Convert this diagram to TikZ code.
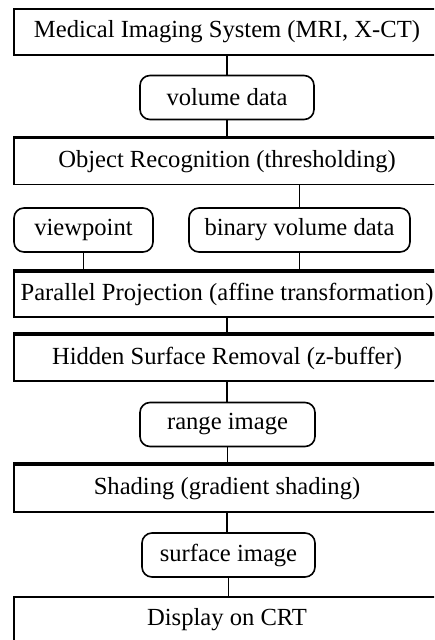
\documentclass[tikz,border=0pt]{standalone}
\usepackage{fontspec}
\setmainfont{Liberation Serif}
\usepackage{tikz}
\usetikzlibrary{positioning}

\begin{document}
\begin{tikzpicture}[x=0.5pt,y=-0.5pt]
                \tikzstyle{every node}+=[inner sep=0pt,font=\fontsize{12.3pt}{14pt}\selectfont]
                \tikzstyle{stage}=[draw,line width=0.8pt,minimum width=213pt,minimum height=23pt]
                \tikzstyle{data}=[draw,line width=0.8pt,rounded corners=5pt,minimum height=22pt]
                \tikzstyle{link}=[line width=0.9pt]
                \useasboundingbox (0,0) rectangle (434,640);
                \clip (0,0) rectangle (434,640);
                \node [stage] (sys) at (227,32) {Medical Imaging System (MRI, X-CT)};
                \node [data,minimum width=87pt] (vol) at (227,97.5) {volume data};
                \node [stage] (recog) at (227,161.5) {Object Recognition (thresholding)};
                \node [data,minimum width=69.5pt] (view) at (83.5,230) {viewpoint};
                \node [data,minimum width=110.5pt] (binary) at (299.5,230) {binary volume data};
                \node [stage,minimum height=22.5pt] (proj) at (227,294.5) {Parallel Projection (affine transformation)};
                \node [stage] (hidden) at (227,358) {Hidden Surface Removal (z-buffer)};
                \node [data,minimum width=87.5pt] (range) at (227.5,424.5) {range image};
                \node [stage,minimum height=23.5pt] (shade) at (227,488.5) {Shading (gradient shading)};
                \node [data,minimum width=86.5pt] (surf) at (228.5,555) {surface image};
                \node [stage] (display) at (227,620) {Display on CRT};
                \foreach \n in {recog,proj,hidden,shade}
                    \draw [line width=1.8pt] (\n.north west) -- (\n.north east);
                \draw [link] (sys) -- (vol);
                \draw [link] (vol) -- (recog);
                \draw [link] (binary.north |- recog.south) -- (binary);
                \draw [link] (view) -- (view.south |- proj.north);
                \draw [link] (binary) -- (binary.south |- proj.north);
                \draw [link] (proj) -- (hidden);
                \draw [link] (hidden) -- (hidden.south |- range.north);
                \draw [link] (range) -- (range.south |- shade.north);
                \draw [link] (shade) -- (shade.south |- surf.north);
                \draw [link] (surf) -- (surf.south |- display.north);
            \end{tikzpicture}
\end{document}
